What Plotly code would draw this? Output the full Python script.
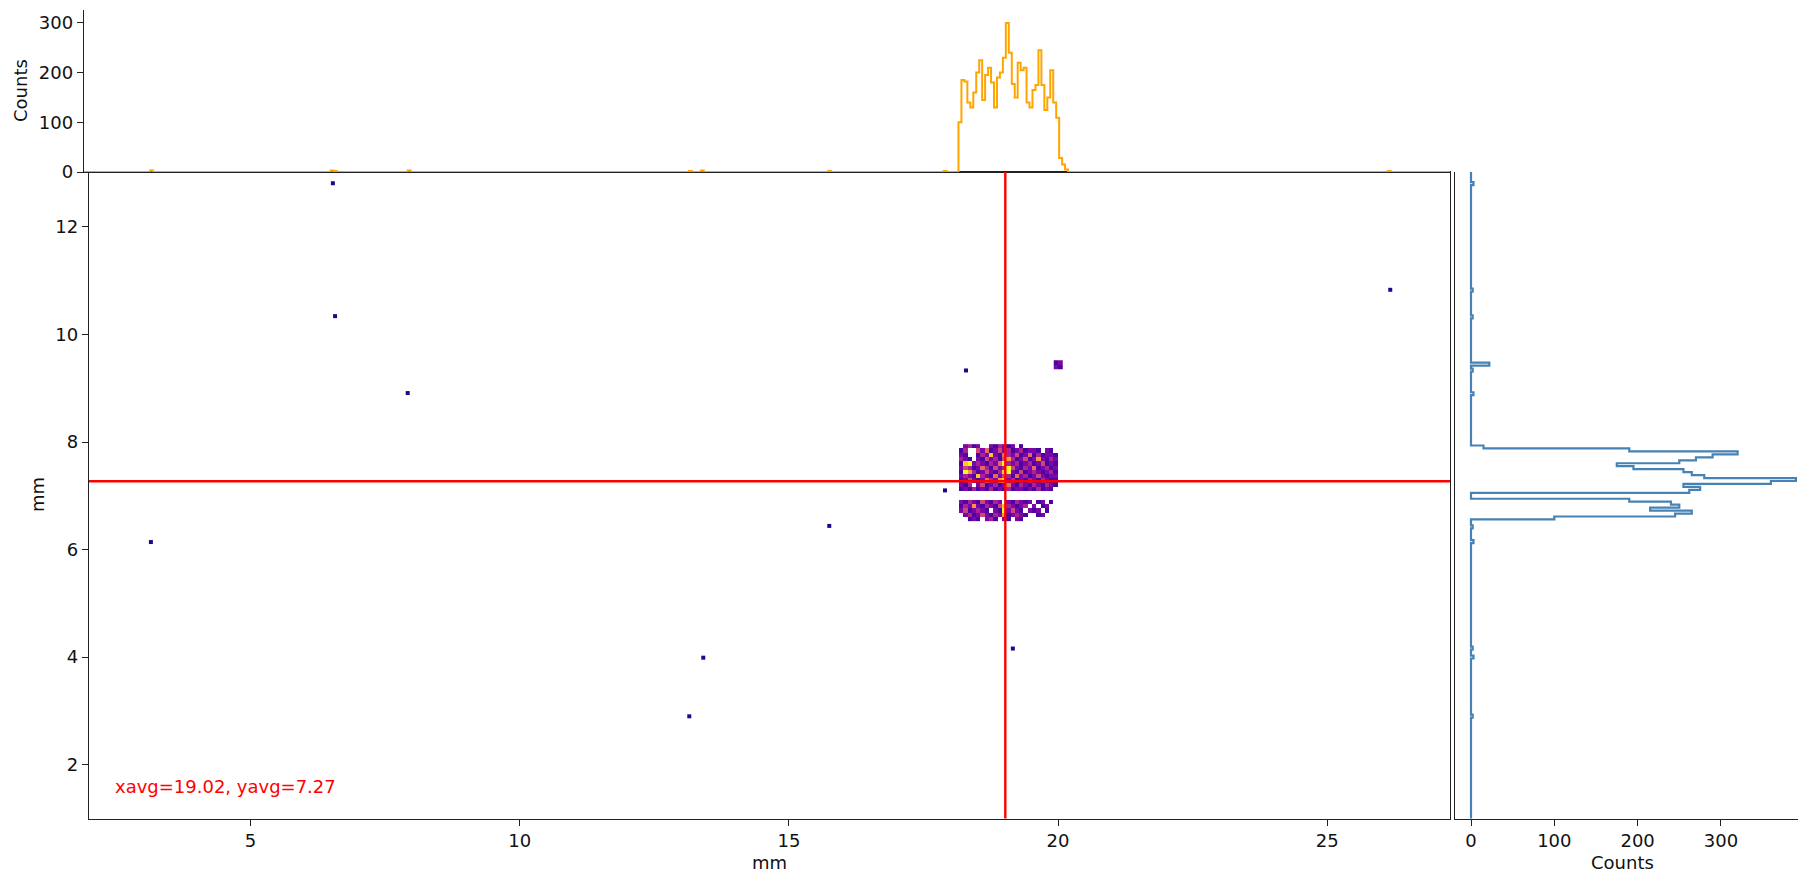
import numpy as np
import plotly.graph_objects as go

# ---------------- data ----------------
# 2D hit map of the beam spot (relative intensity, 0 = empty), rows listed top (y=7.92) to bottom (y=6.56)
blob_x0 = 18.16
blob_y0 = 6.52
blob_bin = 0.08
blob_rows_top_down = [
    [0,3,4,2,3,0,0,3,2,4,3,2,3,0,2,0,0,0,0,0,0,0,0,0],
    [2,4,0,0,5,3,6,2,3,5,3,4,2,3,4,2,3,3,2,0,3,2,0,0],
    [3,2,0,0,2,4,3,8,3,2,6,4,3,5,2,3,6,2,4,2,3,3,2,0],
    [4,3,2,0,3,2,5,3,4,2,5,7,4,2,3,5,2,3,7,3,2,4,3,0],
    [2,8,9,3,4,3,2,4,3,6,9,4,3,4,2,3,4,2,3,5,2,3,2,0],
    [3,5,4,2,3,6,4,2,5,3,4,10,5,3,2,4,3,6,2,3,4,2,3,0],
    [2,9,7,4,2,3,5,3,2,4,8,9,3,2,5,2,3,4,3,2,3,4,2,0],
    [3,4,3,2,8,4,3,2,6,3,5,4,2,6,3,4,2,3,5,3,2,3,3,0],
    [2,3,5,3,2,3,6,4,3,7,8,3,4,2,3,2,4,3,2,4,3,2,2,0],
    [3,2,4,0,3,5,2,3,4,2,3,6,3,2,4,3,2,4,3,2,4,3,2,0],
    [2,3,2,4,2,3,2,4,2,3,2,4,2,3,3,2,3,2,4,2,3,2,0,0],
    [0,0,0,0,0,0,0,0,0,0,0,0,0,0,0,0,0,0,0,0,0,0,0,0],
    [0,0,0,0,0,0,0,0,0,0,0,0,0,0,0,0,0,0,0,0,0,0,0,0],
    [3,2,4,3,2,5,3,2,4,3,0,3,2,4,3,2,3,0,2,3,0,2,0,0],
    [2,4,3,7,3,2,4,3,2,5,8,4,3,2,3,4,0,3,0,2,3,0,0,0],
    [3,5,2,3,4,3,2,0,3,2,9,3,5,3,2,0,3,2,3,0,2,0,0,0],
    [0,3,4,2,3,5,3,2,4,3,7,2,3,4,3,2,0,0,2,3,0,0,0,0],
    [0,0,2,3,2,0,3,4,2,0,3,2,0,3,2,0,0,0,0,0,0,0,0,0],
]

# small secondary cluster
cluster_x = [19.96, 20.04]
cluster_y = [9.40, 9.48]
cluster_z = [[3, 2], [2, 3]]

# isolated hits (mm) and their pixel counts
iso_x = [6.53, 6.57, 7.92, 3.15, 26.17, 18.29, 17.90, 15.75, 13.41, 13.15, 19.16]
iso_y = [12.81, 10.34, 8.91, 6.14, 10.83, 9.33, 7.10, 6.44, 3.99, 2.90, 4.16]
iso_counts = [3, 2, 3, 3, 2, 2, 2, 2, 3, 2, 2]

# projection along x (orange), bins of 0.055 mm starting at 18.15 mm
xproj_start = 18.15
proj_bin = 0.055
xproj_counts = [100, 185, 180, 140, 130, 160, 200, 225, 145, 195, 210, 180,
                130, 190, 200, 230, 300, 240, 175, 150, 220, 205, 210, 140,
                130, 165, 175, 245, 175, 125, 150, 205, 140, 105, 28, 15, 5]

# projection along y (blue), bins of 0.055 mm starting at 6.56 mm (bottom to top)
yproj_start = 6.56
yproj_counts = [100, 245, 265, 215, 250, 240, 190, 0, 0, 260, 275, 255,
                360, 390, 280, 265, 255, 195, 175, 250, 270, 290, 320, 190, 15]
cluster_proj = 22

x_avg = 19.02
y_avg = 7.27

x_range = [2.0, 27.28]
y_range = [1.0, 13.02]

# ---------------- build ----------------
blob_z = [[(v if v > 0 else None) for v in row] for row in blob_rows_top_down[::-1]]
ncol = len(blob_rows_top_down[0])
nrow = len(blob_rows_top_down)
blob_xc = [blob_x0 + blob_bin * (i + 0.5) for i in range(ncol)]
blob_yc = [blob_y0 + blob_bin * (j + 0.5) for j in range(nrow)]

# full-range projection histograms
def full_hist(lo, hi, start, counts, extra_pos, extra_cnt):
    k0 = int(np.floor((start - lo) / proj_bin))
    lo2 = start - k0 * proj_bin
    n = int(np.ceil((hi - lo2) / proj_bin)) + 1
    edges = lo2 + proj_bin * np.arange(n + 1)
    c = np.zeros(n)
    for i, v in enumerate(counts):
        c[k0 + i] += v
    for p, v in zip(extra_pos, extra_cnt):
        idx = int((p - lo2) // proj_bin)
        if 0 <= idx < n:
            c[idx] += v
    return edges, c

xe, xc = full_hist(1.8, 27.4, xproj_start, xproj_counts, iso_x + [19.99], iso_counts + [4])
ye, yc = full_hist(0.9, 13.1, yproj_start, yproj_counts, iso_y + [9.44], iso_counts + [cluster_proj])

W, H = 1798, 876
def px_x(p): return p / W
def px_y(p): return (H - p) / H

main_xd = [px_x(89), px_x(1450)]
main_yd = [px_y(818.5), px_y(172)]
top_xd = [px_x(84), px_x(1450)]
top_yd = [px_y(172), px_y(10)]
right_xd = [px_x(1455), 1.0]

FS = 18
ZMIN, ZMAX = 1, 9

fig = go.Figure()

fig.add_trace(go.Heatmap(x=blob_xc, y=blob_yc, z=blob_z, colorscale="Plasma",
                         zmin=ZMIN, zmax=ZMAX, showscale=False, hoverongaps=False,
                         xaxis="x", yaxis="y"))
fig.add_trace(go.Heatmap(x=cluster_x, y=cluster_y, z=cluster_z, colorscale="Plasma",
                         zmin=ZMIN, zmax=ZMAX, showscale=False, xaxis="x", yaxis="y"))
fig.add_trace(go.Scatter(x=iso_x, y=iso_y, mode="markers",
                         marker=dict(symbol="square", size=4, color=[1.3] * len(iso_x),
                                     colorscale="Plasma", cmin=ZMIN, cmax=ZMAX, line=dict(width=0)),
                         xaxis="x", yaxis="y", showlegend=False))

# top projection (step)
fig.add_trace(go.Scatter(x=list(xe[:-1]) + [xe[-1]], y=list(xc) + [xc[-1]], mode="lines",
                         line=dict(color="#FFA500", width=2, shape="hv"),
                         xaxis="x2", yaxis="y2", showlegend=False))
# right projection (step, vertical)
fig.add_trace(go.Scatter(x=list(yc) + [yc[-1]], y=list(ye[:-1]) + [ye[-1]], mode="lines",
                         line=dict(color="#4682B4", width=2.2, shape="vh"),
                         xaxis="x3", yaxis="y3", showlegend=False))

axis_common = dict(showgrid=False, zeroline=False, showline=True, linecolor="#222222",
                   linewidth=1.4, ticks="outside", ticklen=6, tickwidth=1.4,
                   tickcolor="#222222", automargin=False,
                   tickfont=dict(family="DejaVu Sans", size=FS, color="#111111"))

fig.update_layout(
    width=W, height=H, margin=dict(l=0, r=0, t=0, b=0),
    paper_bgcolor="white", plot_bgcolor="white", showlegend=False,
    font=dict(family="DejaVu Sans", size=FS, color="#111111"),
    xaxis=dict(axis_common, domain=main_xd, range=x_range, anchor="y", mirror=True,
               tickvals=[5, 10, 15, 20, 25]),
    yaxis=dict(axis_common, domain=main_yd, range=y_range, anchor="x", mirror=True,
               tickvals=[2, 4, 6, 8, 10, 12]),
    xaxis2=dict(axis_common, domain=top_xd,
                range=[x_range[0] - 5 / 53.85, x_range[1]], anchor="y2",
                showticklabels=False, ticks=""),
    yaxis2=dict(axis_common, domain=top_yd, range=[0, 326], anchor="x2",
                tickvals=[0, 100, 200, 300]),
    xaxis3=dict(axis_common, domain=right_xd, range=[-19.2, 392.5], anchor="y3",
                tickvals=[0, 100, 200, 300]),
    yaxis3=dict(axis_common, domain=main_yd, range=y_range, anchor="x3",
                showticklabels=False, ticks=""),
    shapes=[
        dict(type="line", xref="x", yref="y domain", x0=x_avg, x1=x_avg, y0=0, y1=1,
             line=dict(color="red", width=2.4)),
        dict(type="line", xref="x domain", yref="y", x0=0, x1=1, y0=y_avg, y1=y_avg,
             line=dict(color="red", width=2.4)),
    ],
    annotations=[
        dict(text=f"xavg={x_avg:.2f}, yavg={y_avg:.2f}", xref="x domain", yref="y domain",
             x=0.018, y=0.05, xanchor="left", yanchor="middle", showarrow=False,
             font=dict(color="red", size=FS, family="DejaVu Sans")),
        dict(text="mm", xref="paper", yref="paper", x=px_x(769), y=px_y(862),
             xanchor="center", yanchor="middle", showarrow=False, font=dict(size=FS)),
        dict(text="mm", xref="paper", yref="paper", x=px_x(38), y=px_y(495),
             xanchor="center", yanchor="middle", showarrow=False, textangle=-90,
             font=dict(size=FS)),
        dict(text="Counts", xref="paper", yref="paper", x=px_x(20), y=px_y(91),
             xanchor="center", yanchor="middle", showarrow=False, textangle=-90,
             font=dict(size=FS)),
        dict(text="Counts", xref="paper", yref="paper", x=px_x(1622), y=px_y(862),
             xanchor="center", yanchor="middle", showarrow=False, font=dict(size=FS)),
    ],
)

fig.write_html("out.html", config={"displayModeBar": False},
               post_script="document.body.style.margin='0';")
